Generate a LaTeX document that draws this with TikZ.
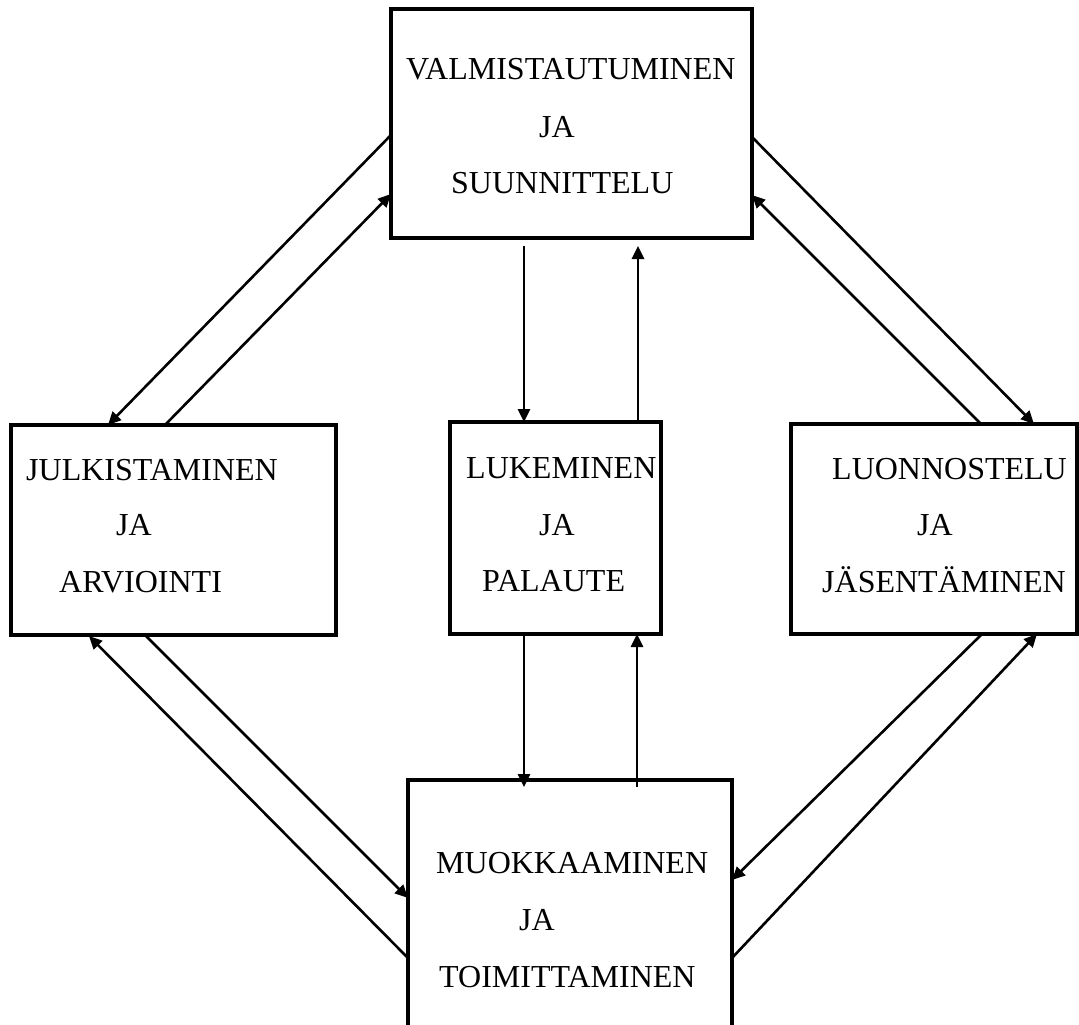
\documentclass[tikz,border=0pt]{standalone}
\usepackage{fontspec}
\setmainfont{Liberation Serif}
\usetikzlibrary{calc,arrows.meta}
\begin{document}
\begin{tikzpicture}[x=1pt,y=-1pt,
  boxframe/.style={draw, line width=3.2pt, inner sep=0pt, outer sep=0pt},
  arr/.style={line width=2.6pt, -{Triangle[length=13pt,width=12pt]}},
  lbl/.style={anchor=base west, inner sep=0pt, font=\fontsize{32}{32}\selectfont}]
\useasboundingbox[fill=white] (0,0) rectangle (1079,1025);
% boxes
\node[boxframe, minimum width=361pt, minimum height=229pt] (top) at (571.5,123.5) {};
\node[boxframe, minimum width=325pt, minimum height=210pt] (left) at (173.5,530) {};
\node[boxframe, minimum width=211pt, minimum height=212pt] (mid) at (555.5,528) {};
\node[boxframe, minimum width=286pt, minimum height=210pt] (right) at (934,529) {};
\node[inner sep=0pt, outer sep=0pt, minimum width=324pt, minimum height=245pt] (bot) at (570,902.5) {};
\draw[line width=3.2pt] (bot.south west) -- (bot.north west) -- (bot.north east) -- (bot.south east);
% texts
\node[lbl] (t1) at (406,80) {VALMISTAUTUMINEN};
\node[lbl] (t2) at (539,137) {JA};
\node[lbl] (t3) at (451,193) {SUUNNITTELU};
\node[lbl] (l1) at (26,480) {JULKISTAMINEN};
\node[lbl] (l2) at (116,535) {JA};
\node[lbl] (l3) at (59,592) {ARVIOINTI};
\node[lbl] (m1) at (466,478) {LUKEMINEN};
\node[lbl] (m2) at (539,535) {JA};
\node[lbl] (m3) at (482,591) {PALAUTE};
\node[lbl] (r1) at (832,479) {LUONNOSTELU};
\node[lbl] (r2) at (917,535) {JA};
\node[lbl] (r3) at (822,592) {JÄSENTÄMINEN};
\node[lbl] (b1) at (436,873) {MUOKKAAMINEN};
\node[lbl] (b2) at (519,930) {JA};
\node[lbl] (b3) at (439,987) {TOIMITTAMINEN};
% connectors
\draw[arr] ($(top.north west)+(0,126)$) -- ($(left.north west)+(97,0)$);
\draw[arr] ($(left.north west)+(154,0)$) -- ($(top.north west)+(0,185)$);
\draw[arr] ($(top.north east)+(0,128)$) -- ($(right.north west)+(243,0)$);
\draw[arr] ($(right.north west)+(190,0)$) -- ($(top.north east)+(0,186)$);
\draw[arr] ($(top.south west)+(133,8)$) -- ($(mid.north west)+(74,0)$);
\draw[arr] ($(mid.north west)+(188,0)$) -- ($(top.south west)+(247,8)$);
\draw[arr] ($(mid.south west)+(74,0)$) -- ($(bot.north west)+(116,7)$);
\draw[arr] ($(bot.north west)+(229,7)$) -- ($(mid.south west)+(187,0)$);
\draw[arr] ($(left.south west)+(134,0)$) -- ($(bot.north west)+(0,118)$);
\draw[arr] ($(bot.north west)+(0,178)$) -- ($(left.south west)+(78,1)$);
\draw[arr] ($(right.south west)+(191,0)$) -- ($(bot.north east)+(0,100)$);
\draw[arr] ($(bot.north east)+(0,178)$) -- ($(right.south west)+(246,0)$);
\end{tikzpicture}
\end{document}
